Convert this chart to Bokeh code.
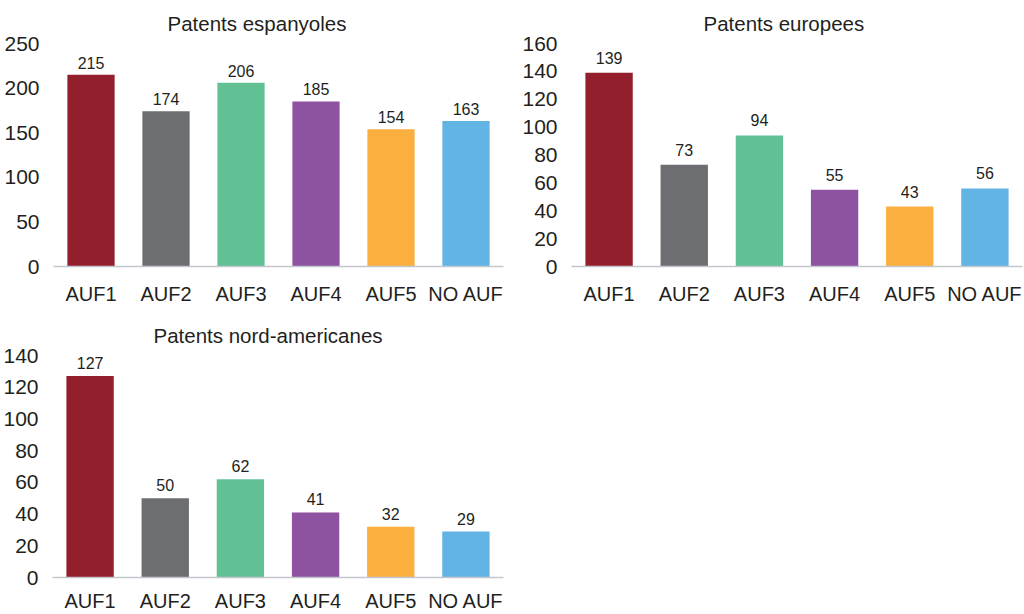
from bokeh.plotting import figure
from bokeh.models import ColumnDataSource, LabelSet, Range1d, FactorRange, FixedTicker, Title
from bokeh.core.properties import value
from bokeh.layouts import column, row
from bokeh.embed import file_html
from bokeh.resources import INLINE

categories = ["AUF1", "AUF2", "AUF3", "AUF4", "AUF5", "NO AUF"]
bar_colors = ["#931F2D", "#6D6E71", "#61C194", "#8D52A0", "#FBAF3F", "#61B4E4"]

spanish_patents = [215, 174, 206, 185, 154, 163]
european_patents = [139, 73, 94, 55, 43, 56]
american_patents = [127, 50, 62, 41, 32, 29]

titles = ["Patents espanyoles", "Patents europees", "Patents nord-americanes"]
spanish_ticks = [0, 50, 100, 150, 200, 250]
european_ticks = [0, 20, 40, 60, 80, 100, 120, 140, 160]
american_ticks = [0, 20, 40, 60, 80, 100, 120, 140]

FONT = "Liberation Sans"
TEXT = "#231F20"


def panel(title, values, ticks, width, height, borders, title_offset, title_standoff, lab_off, x_standoff):
    l, r, t, b = borders
    src = ColumnDataSource(dict(cat=categories, val=values, col=bar_colors,
                                txt=[str(v) for v in values]))
    p = figure(x_range=FactorRange(*categories), y_range=Range1d(0, ticks[-1]),
               width=width, height=height, output_backend="svg", toolbar_location=None,
               min_border_left=l, min_border_right=r, min_border_top=t, min_border_bottom=b)
    p.title = Title(text=title, align="left", offset=title_offset, standoff=title_standoff,
                    vertical_align="bottom", text_font=FONT, text_font_size="20.5px",
                    text_font_style="normal", text_color=TEXT)
    p.outline_line_color = None
    p.background_fill_color = "white"
    p.border_fill_color = "white"
    p.xgrid.grid_line_color = None
    p.ygrid.grid_line_color = None
    p.vbar(x="cat", top="val", width=0.63, color="col", line_color=None, source=src)
    p.add_layout(LabelSet(x="cat", y="val", text="txt", source=src, y_offset=lab_off,
                          text_align="center", text_baseline="alphabetic",
                          text_font=value(FONT), text_font_size=value("16px"),
                          text_color=TEXT))
    xa = p.xaxis[0]
    xa.axis_line_color = "#C3C6CC"
    xa.axis_line_width = 1.5
    xa.major_tick_line_color = None
    xa.minor_tick_line_color = None
    xa.major_label_text_font = FONT
    xa.major_label_text_font_size = "20px"
    xa.major_label_text_color = TEXT
    xa.major_label_standoff = x_standoff
    ya = p.yaxis[0]
    ya.ticker = FixedTicker(ticks=ticks)
    ya.axis_line_color = None
    ya.major_tick_line_color = None
    ya.minor_tick_line_color = None
    ya.major_label_text_font = FONT
    ya.major_label_text_font_size = "21px"
    ya.major_label_text_color = TEXT
    ya.major_label_standoff = 8
    return p


p1 = panel(titles[0], spanish_patents, spanish_ticks, 512, 307, (53, 9, 43, 34), 114, 17, 6, 10)
p2 = panel(titles[1], european_patents, european_ticks, 512, 307, (59, 2, 43, 33), 132, 17, 9, 10)
p3 = panel(titles[2], american_patents, american_ticks, 512, 307, (52, 9, 48, 29), 101, 17, 7, 6)

layout = column(row(p1, p2, spacing=0), p3, spacing=0)
open("out.html", "w").write(file_html(layout, INLINE))
